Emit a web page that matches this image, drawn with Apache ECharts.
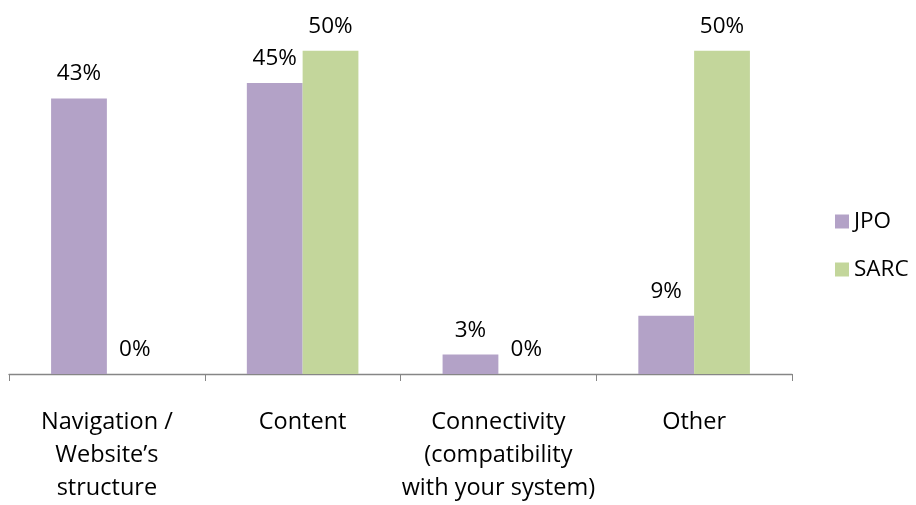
<!DOCTYPE html>
<html>
<head>
<meta charset="utf-8">
<script src="https://cdn.jsdelivr.net/npm/echarts@6/dist/echarts.min.js"></script>
<style>html,body{margin:0;padding:0;background:#fff;}#c{width:916px;height:505px;}</style>
</head>
<body>
<div id="c"></div>
<script>
const categories = ['Navigation /\nWebsite\u2019s\nstructure', 'Content', 'Connectivity\n(compatibility\nwith your system)', 'Other'];
const seriesNames = ['JPO', 'SARC'];
const jpoValues = [42.6, 45, 3, 9];
const sarcValues = [0, 50, 0, 50];
const colors = ['#B3A2C7', '#C3D69B'];
const FONT = 'Open Sans';

const chart = echarts.init(document.getElementById('c'));
const labelStyle = {
  show: true, position: 'top', distance: 13,
  formatter: p => Math.round(p.value) + '%',
  color: '#000', fontSize: 22.5, fontFamily: FONT
};
chart.setOption({
  animation: false,
  textStyle: { fontFamily: FONT },
  grid: { left: 9, right: 124, top: 50.7, bottom: 125.5 },
  legend: {
    orient: 'vertical', left: 830, top: 205, itemGap: 25,
    itemWidth: 14, itemHeight: 14, icon: 'rect',
    textStyle: { fontSize: 22.5, color: '#000', fontFamily: FONT },
    data: seriesNames
  },
  xAxis: {
    type: 'category', data: categories,
    axisLine: { lineStyle: { color: '#868686', width: 1.3 } },
    axisTick: { show: true, length: 7, lineStyle: { color: '#868686' } },
    axisLabel: { color: '#000', fontSize: 23.5, fontFamily: FONT, lineHeight: 33, margin: 32, interval: 0 }
  },
  yAxis: { type: 'value', min: 0, max: 50, show: false },
  series: [
    { name: seriesNames[0], type: 'bar', data: jpoValues, itemStyle: { color: colors[0] },
      barGap: '0%', barCategoryGap: '43%', label: labelStyle },
    { name: seriesNames[1], type: 'bar', data: sarcValues, itemStyle: { color: colors[1] },
      barGap: '0%', barCategoryGap: '43%', label: labelStyle }
  ]
});
</script>
</body>
</html>
